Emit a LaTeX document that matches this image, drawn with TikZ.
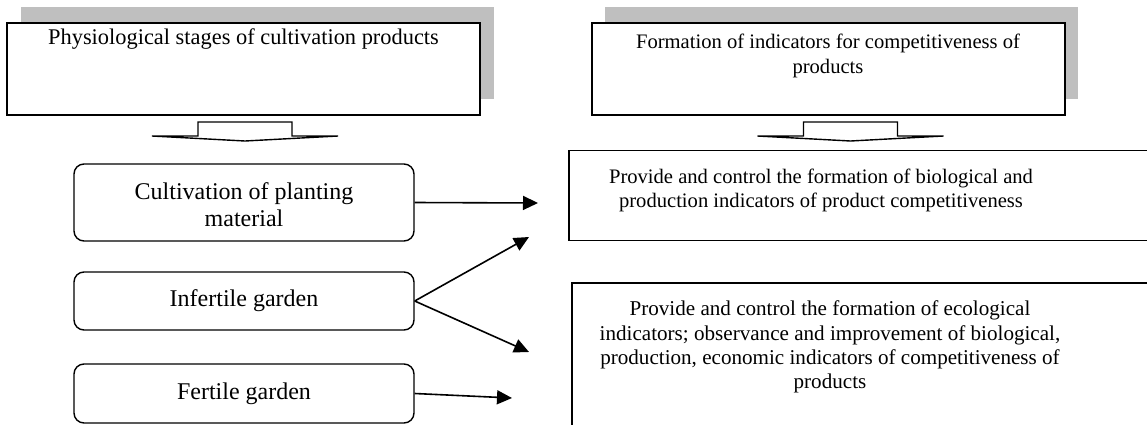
\documentclass[tikz,border=0pt]{standalone}
\usepackage{fontspec}
\setmainfont{Liberation Serif}
\usetikzlibrary{arrows.meta}
\usetikzlibrary{shadows}

\definecolor{shadowgray}{RGB}{191,191,191}
\tikzset{
  header/.style={draw, line width=1pt, fill=white, minimum width=236.5pt, minimum height=46pt,
    general shadow={fill=shadowgray, shadow xshift=6.75pt, shadow yshift=8pt}},
  headtext/.style={anchor=north, align=center, inner sep=3.5pt},
  stagebox/.style={draw, line width=0.7pt, rounded corners=5pt, minimum width=170pt, align=center,
    font=\fontsize{12}{13.6}\selectfont},
  panel/.style={draw, line width=0.9pt, anchor=north west, minimum width=300pt},
  paneltext/.style={align=center, font=\fontsize{10.3}{12}\selectfont},
  link/.style={line width=0.8pt, -{Triangle[length=7.5pt,width=7pt]}},
  downarrow/.pic={
    \draw[fill=white, line width=0.7pt] (-93,14) -- (-47,14) -- (-47,0) -- (47,0) -- (47,14) -- (93,14) -- (0,19) -- cycle;
  }
}

\begin{document}
\begin{tikzpicture}[x=0.5pt, y=-0.5pt]
  \useasboundingbox (0,0) rectangle (1147,424);
  \clip (0,0) rectangle (1147,424);
  % headers
  \node[header] (phys) at (243.5,68.5) {};
  \node[headtext, font=\fontsize{11.2}{12.5}\selectfont] (physT) at (phys.north) {Physiological stages of cultivation products};
  \node[header] (form) at (828,68.5) {};
  \node[headtext, yshift=-2.5pt, font=\fontsize{10.3}{12.5}\selectfont] (formT) at (form.north) {Formation of indicators for competitiveness of\\ products};
  \pic at (245,122) {downarrow};
  \pic at (850.5,122) {downarrow};
  % stages
  \node[stagebox, minimum height=38.5pt] (cult) at (244,202.5) {\rule{0pt}{11pt}Cultivation of planting\\ material};
  \node[stagebox, minimum height=29pt] (infert) at (244,301) {Infertile garden};
  \node[stagebox, minimum height=29.5pt] (fert) at (244,393.5) {Fertile garden};
  % indicators
  \node[panel, minimum height=45pt] (bio) at (568,149.5) {};
  \node[paneltext] (bioT) at (821,190) {Provide and control the formation of biological and\\ production indicators of product competitiveness};
  \node[panel, minimum height=80pt] (eco) at (571,282) {};
  \node[paneltext, font=\fontsize{10.55}{12.1}\selectfont] (ecoT) at (830,347) {Provide and control the formation of ecological\\ indicators; observance and improvement of biological,\\ production, economic indicators of competitiveness of\\ products};
  % links
  \coordinate (c1) at (538,203);
  \coordinate (c2) at (529,237);
  \coordinate (c3) at (529,352);
  \coordinate (c4) at (512,398);
  \draw[link] (cult.east) -- (c1);
  \draw[link] (infert.east) -- (c2);
  \draw[link] (infert.east) -- (c3);
  \draw[link] (fert.east) -- (c4);
\end{tikzpicture}
\end{document}
